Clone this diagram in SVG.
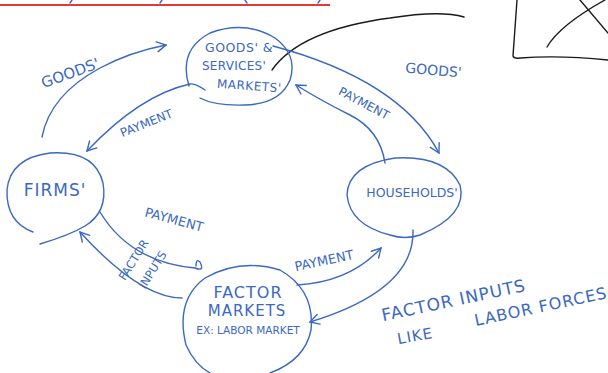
<svg xmlns="http://www.w3.org/2000/svg" width="608" height="373" viewBox="0 0 608 373">
<style>
.ink{fill:none;stroke:#3a68c2;stroke-width:1.4;stroke-linecap:round;stroke-linejoin:round}
.blk{fill:none;stroke:#1a1a1a;stroke-width:1.4;stroke-linecap:round}
.t{font-family:"DejaVu Sans",sans-serif;fill:#3a68c2;font-weight:normal}
</style>
<defs>
<marker id="ah" viewBox="0 0 12 12" refX="10" refY="6" markerWidth="12" markerHeight="12" markerUnits="userSpaceOnUse" orient="auto">
<path d="M1,1 L10,6 L1,11" fill="none" stroke="#3a68c2" stroke-width="1.4" stroke-linecap="round"/>
</marker>
</defs>
<rect width="608" height="373" fill="#fff"/>
<g id="header">
<line x1="0" y1="5" x2="330" y2="5" stroke="#e53939" stroke-width="1.8"/>
<path class="ink" d="M70,3 L72,0 M160,3 L162,0 M245,0 L247,3 M318,3 L320,0"/>
</g>
<g id="sketch-box">
<path class="blk" d="M517,0 L513,56 Q514,59 520,58 Q560,55 608,60"/>
<path class="blk" d="M547,47 Q560,25 605,0"/>
<path class="blk" d="M580,0 L608,33"/>
</g>
<g id="connectors">
<path class="blk" d="M272,70 Q300,30 390,18 Q440,10 464,17"/>
<path class="ink" d="M42,137 Q50,95 100,68 Q130,52 166,45" marker-end="url(#ah)"/>
<path class="ink" d="M205,90 Q195,83 190,84 Q140,95 87,151" marker-end="url(#ah)"/>
<path class="ink" d="M273,46 Q400,80 439,153" marker-end="url(#ah)"/>
<path class="ink" d="M385,163 Q380,130 350,115 Q320,100 296,85" marker-end="url(#ah)"/>
<path class="ink" d="M182,298 Q140,298 80,232" marker-end="url(#ah)"/>
<path class="ink" d="M100,212 Q130,262 195,268 Q205,272 200,262 Q196,258 196,266"/>
<path class="ink" d="M297,285 Q350,282 381,248" marker-end="url(#ah)"/>
<path class="ink" d="M413,230 Q415,290 310,322" marker-end="url(#ah)"/>
</g>
<g id="goods-services-markets">
<path class="ink" d="M189,86 Q178,50 210,33 Q245,20 275,38 Q298,55 290,80 Q280,104 245,105 Q215,106 200,98"/>
<text class="t" x="239" y="52" font-size="12.5" text-anchor="middle" letter-spacing="0.5">GOODS' &amp;</text>
<text class="t" x="234" y="70" font-size="12" text-anchor="middle" letter-spacing="0.3">SERVICES'</text>
<text class="t" x="249" y="90" font-size="12" text-anchor="middle" letter-spacing="0.5" transform="rotate(4 249 90)">MARKETS'</text>
</g>
<g id="firms">
<path class="ink" d="M33,232 Q6,222 7,190 Q10,158 50,153 Q95,150 103,183 Q108,212 85,226 Q70,235 40,244"/>
<text class="t" x="55" y="196" font-size="17" text-anchor="middle" letter-spacing="1">FIRMS'</text>
</g>
<g id="households">
<path class="ink" d="M390,235 Q350,225 347,195 Q348,165 395,158 Q445,155 460,185 Q468,215 420,235 Q405,240 390,235"/>
<text class="t" x="412" y="197" font-size="12.5" text-anchor="middle">HOUSEHOLDS'</text>
</g>
<g id="factor-markets">
<path class="ink" d="M186,345 Q175,300 205,278 Q240,258 280,270 Q315,290 311,330 Q305,360 270,373 M186,345 Q195,365 210,373"/>
<text class="t" x="248" y="298" font-size="16" text-anchor="middle" letter-spacing="1">FACTOR</text>
<text class="t" x="247" y="316" font-size="15" text-anchor="middle" letter-spacing="1">MARKETS</text>
<text class="t" x="248" y="334" font-size="10.5" text-anchor="middle">EX: LABOR MARKET</text>
</g>
<g id="labels">
<text class="t" x="72" y="78" font-size="15" text-anchor="middle" transform="rotate(-20 72 78)">GOODS'</text>
<text class="t" x="148" y="127" font-size="12" text-anchor="middle" transform="rotate(-22 148 127)">PAYMENT</text>
<text class="t" x="433" y="75" font-size="14" text-anchor="middle" transform="rotate(5 433 75)">GOODS'</text>
<text class="t" x="362" y="107" font-size="12" text-anchor="middle" transform="rotate(28 362 107)">PAYMENT</text>
<text class="t" x="173" y="224" font-size="13" text-anchor="middle" transform="rotate(15 173 224)">PAYMENT</text>
<text class="t" x="137" y="262" font-size="11.5" text-anchor="middle" transform="rotate(-58 137 262)">FACTOR</text>
<text class="t" x="156" y="272" font-size="11.5" text-anchor="middle" transform="rotate(-58 156 272)">INPUTS</text>
<text class="t" x="325" y="265" font-size="13" text-anchor="middle" transform="rotate(-12 325 265)">PAYMENT</text>
<text class="t" x="455" y="306" font-size="17" text-anchor="middle" letter-spacing="1" transform="rotate(-12 455 306)">FACTOR INPUTS</text>
<text class="t" x="416" y="341" font-size="15" text-anchor="middle" letter-spacing="1" transform="rotate(-10 416 341)">LIKE</text>
<text class="t" x="542" y="312" font-size="16" text-anchor="middle" letter-spacing="1" transform="rotate(-12 542 312)">LABOR FORCES</text>
</g>
</svg>
